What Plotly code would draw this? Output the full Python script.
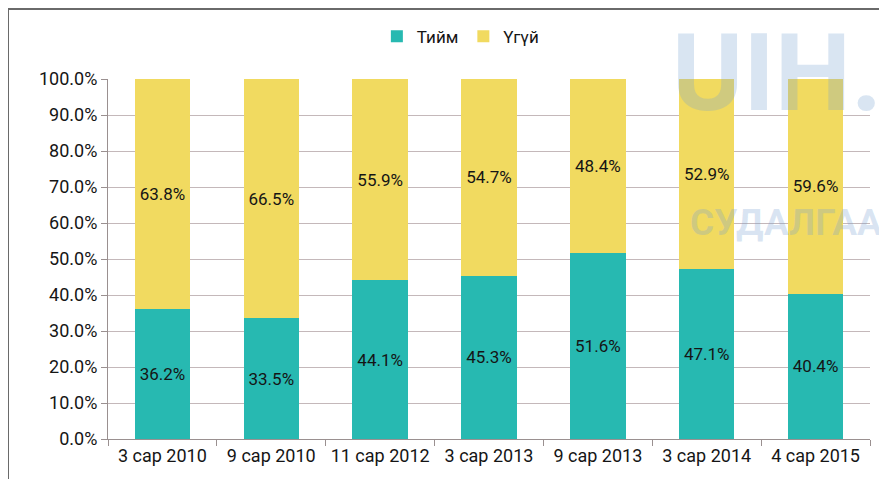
import plotly.graph_objects as go

categories = ["3 сар 2010", "9 сар 2010", "11 сар 2012", "3 сар 2013", "9 сар 2013", "3 сар 2014", "4 сар 2015"]
yes_values = [36.2, 33.5, 44.1, 45.3, 51.6, 47.1, 40.4]
no_values = [63.8, 66.5, 55.9, 54.7, 48.4, 52.9, 59.6]
yticks = [0, 10, 20, 30, 40, 50, 60, 70, 80, 90, 100]

FONT = "Roboto, Arial"
WM_FONT = "Roboto, Arial"

L, R, T, B = 100, 25, 71, 48
W, H = 887, 479
PW, PH = W - L - R, H - T - B


def px(x):
    return (x - L) / PW


def py(y):
    return (H - B - y) / PH


fig = go.Figure()
fig.add_trace(go.Bar(
    x=categories, y=yes_values, name="Тийм",
    marker=dict(color="#27b9b1", line=dict(width=0)),
    text=[f"{v:.1f}%" for v in yes_values],
    textposition="inside", insidetextanchor="middle", textangle=0,
    constraintext="none",
    textfont=dict(color="#151515", size=17, family=FONT),
))
fig.add_trace(go.Bar(
    x=categories, y=no_values, name="Үгүй",
    marker=dict(color="#f1da60", line=dict(width=0)),
    text=[f"{v:.1f}%" for v in no_values],
    textposition="inside", insidetextanchor="middle", textangle=0,
    constraintext="none",
    textfont=dict(color="#151515", size=17, family=FONT),
))

fig.update_layout(
    barmode="stack",
    bargap=0.49,
    width=W, height=H,
    margin=dict(l=L, r=R, t=T, b=B),
    paper_bgcolor="white", plot_bgcolor="white",
    font=dict(family=FONT, color="#151515", size=17),
    legend=dict(orientation="h", x=0.51, xref="container", xanchor="center",
                y=0.94, yref="container", yanchor="middle",
                font=dict(size=17, family=FONT), traceorder="normal"),
    showlegend=True,
    xaxis=dict(showline=True, linecolor="#9a9090", linewidth=1,
               ticks="outside", tickson="boundaries", ticklen=6, tickcolor="#9a9090",
               tickfont=dict(size=18, family=FONT, color="#151515"), showgrid=False),
    yaxis=dict(range=[0, 100], tickvals=yticks, ticktext=[f"{v:.1f}%" for v in yticks],
               showline=True, linecolor="#9a9090", linewidth=1,
               ticks="outside", ticklen=6, tickcolor="#9a9090",
               gridcolor="#c4b8ba", gridwidth=1,
               tickfont=dict(size=18, family=FONT, color="#151515"), zeroline=False),
)

# frame (top and left edges)
fig.add_shape(type="line", xref="paper", yref="paper", x0=px(0), x1=px(W), y0=py(1), y1=py(1),
              line=dict(color="#6a6a6a", width=2))
fig.add_shape(type="line", xref="paper", yref="paper", x0=px(0), x1=px(0), y0=py(1), y1=py(H),
              line=dict(color="#6a6a6a", width=2))

# watermark
wm_color = "rgba(120,160,210,0.28)"
fig.add_annotation(text="<b>UIH.</b>", xref="paper", yref="paper", x=px(876), y=py(0),
                   xanchor="right", yanchor="top", showarrow=False,
                   font=dict(size=108, family=WM_FONT, color=wm_color))
fig.add_annotation(text="<b>СУДАЛГАА</b>", xref="paper", yref="paper", x=px(876), y=py(214),
                   xanchor="right", yanchor="middle", showarrow=False,
                   font=dict(size=37, family=WM_FONT, color=wm_color))

fig.write_html("out.html")
